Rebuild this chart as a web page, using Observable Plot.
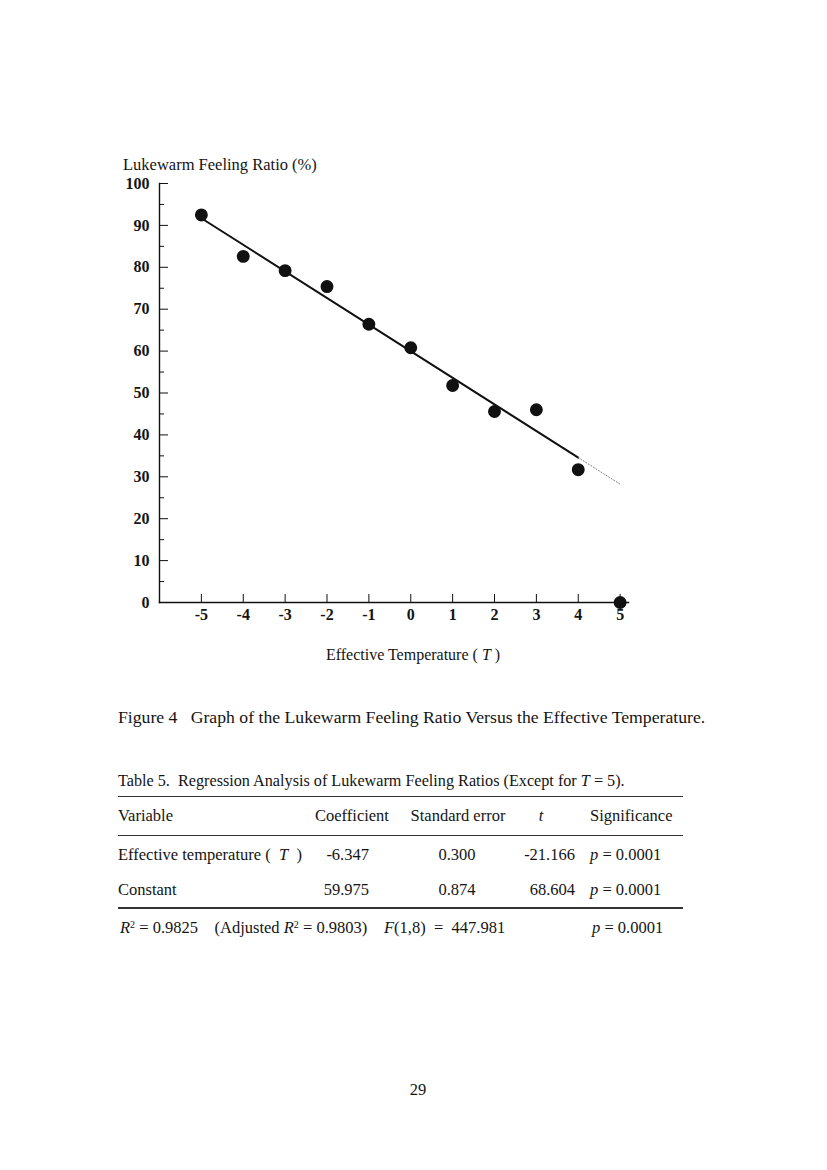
<!DOCTYPE html>
<html>
<head>
<meta charset="utf-8">
<script src="https://cdn.jsdelivr.net/npm/d3@7"></script>
<script src="https://cdn.jsdelivr.net/npm/@observablehq/plot@0.6"></script>
<style>
  html, body { margin: 0; padding: 0; background: #fff; }
  #page { position: relative; width: 827px; height: 1170px; background: #fff; overflow: hidden;
          font-family: "Liberation Serif", "Times New Roman", serif; color: #141414; }
  .t { position: absolute; white-space: pre; font-size: 16.5px; line-height: 20px; }
  .rule { position: absolute; left: 118px; width: 565px; background: #333; }
  #chart { position: absolute; left: 0; top: 140px; }
  i { font-style: italic; }
  sup { font-size: 10px; vertical-align: 5px; line-height: 0; }
</style>
</head>
<body>
<div id="page"></div>
<script>
// ---- chart data ----
const effectiveTemp = [-5, -4, -3, -2, -1, 0, 1, 2, 3, 4, 5];
const lukewarmRatio = [92.5, 82.6, 79.2, 75.4, 66.4, 60.8, 51.8, 45.6, 46.0, 31.7, 0];
const xTicks = [-5, -4, -3, -2, -1, 0, 1, 2, 3, 4, 5];
const yTicks = [0, 10, 20, 30, 40, 50, 60, 70, 80, 90, 100];
const yMinorTicks = [5, 15, 25, 35, 45, 55, 65, 75, 85, 95];
// regression (from Table 5, fitted for T = -5..4)
const regSlope = -6.347;
const regConstant = 59.975;
const fitSpan = [-5, 4];
const extensionSpan = [4, 5];

// ---- table data ----
const tableTitle = "Table 5.  Regression Analysis of Lukewarm Feeling Ratios (Except for <i>T</i> = 5).";
const tableHeaders = ["Variable", "Coefficient", "Standard error", "<i>t</i>", "Significance"];
const rowVariables = ["Effective temperature (  <i>T</i>  )", "Constant"];
const rowCoefficients = ["-6.347", "59.975"];
const rowStdErrors = ["0.300", "0.874"];
const rowTValues = ["-21.166", "68.604"];
const rowSignificance = ["<i>p</i> = 0.0001", "<i>p</i> = 0.0001"];
const footerR2 = "<i>R</i><sup>2</sup> = 0.9825    (Adjusted <i>R</i><sup>2</sup> = 0.9803)";
const footerF = "<i>F</i>(1,8)  =  447.981";
const footerP = "<i>p</i> = 0.0001";

const yTitle = "Lukewarm Feeling Ratio (%)";
const xTitle = "Effective Temperature ( <i>T</i> )";
const caption = "Figure 4   Graph of the Lukewarm Feeling Ratio Versus the Effective Temperature.";
const pageNumber = "29";

// ---- build chart ----
const points = effectiveTemp.map((t, i) => ({t, v: lukewarmRatio[i]}));
const fitLine = fitSpan.map(t => ({t, v: regConstant + regSlope * t}));
const extLine = extensionSpan.map(t => ({t, v: regConstant + regSlope * t}));

const W = 827, H = 540, mL = 159, mR = 199, mT = 43, mB = 78;
const innerW = W - mL - mR, innerH = H - mT - mB;

const chart = Plot.plot({
  width: W, height: H,
  marginLeft: mL, marginRight: mR, marginTop: mT, marginBottom: mB,
  x: {domain: [-6, 5.2]},
  y: {domain: [0, 100]},
  style: {fontFamily: '"Liberation Serif", "Times New Roman", serif', fontSize: "16px", color: "#141414", background: "transparent"},
  marks: [
    Plot.axisY(yTicks, {tickSize: 0, tickPadding: 10, label: null, tickFormat: d => String(d), fontSize: 16, fontWeight: "bold"}),
    Plot.axisX(xTicks, {tickSize: 0, tickPadding: 6, label: null, tickFormat: d => String(d), fontSize: 16, fontWeight: "bold"}),
    Plot.tickY(yTicks, {y: d => d, insetRight: innerW - 9, stroke: "#111"}),
    Plot.tickY(yMinorTicks, {y: d => d, insetRight: innerW - 5, stroke: "#111"}),
    Plot.tickX(xTicks, {x: d => d, insetTop: innerH - 8, stroke: "#111"}),
    Plot.frame({anchor: "left", stroke: "#111", strokeWidth: 1.4}),
    Plot.frame({anchor: "bottom", stroke: "#111", strokeWidth: 1.4}),
    Plot.line(fitLine, {x: "t", y: "v", stroke: "#111", strokeWidth: 2}),
    Plot.line(extLine, {x: "t", y: "v", stroke: "#777", strokeWidth: 1, strokeDasharray: "1,2"}),
    Plot.dot(points, {x: "t", y: "v", r: 5.7, fill: "#111", stroke: "#111"})
  ]
});
chart.id = "chart";
const page = document.getElementById("page");
page.appendChild(chart);

// ---- text helpers ----
function text(html, x, cy, align = "left", extra = "") {
  const d = document.createElement("div");
  d.className = "t";
  d.innerHTML = html;
  let style = `top:${cy - 10}px;`;
  if (align === "left") style += `left:${x}px;`;
  else if (align === "right") style += `right:${827 - x}px;`;
  else style += `left:${x}px;transform:translateX(-50%);`;
  d.style.cssText = style + extra;
  page.appendChild(d);
}
function rule(y, h) {
  const d = document.createElement("div");
  d.className = "rule";
  d.style.top = y + "px";
  d.style.height = h + "px";
  page.appendChild(d);
}

text(yTitle, 123, 165);
text(xTitle, 413, 655, "center", "font-size:16px;");
text(caption, 118, 717, "left", "font-size:17.7px;");

// table
text(tableTitle, 118, 781, "left", "font-size:16.2px;");
rule(796, 1);
const hdrY = 816;
text(tableHeaders[0], 118, hdrY);
text(tableHeaders[1], 352, hdrY, "center");
text(tableHeaders[2], 458, hdrY, "center");
text(tableHeaders[3], 541, hdrY, "center");
text(tableHeaders[4], 590, hdrY);
rule(835, 1);
const rowY = [855, 890];
rowVariables.forEach((v, i) => {
  text(v, 118, rowY[i]);
  text(rowCoefficients[i], 369, rowY[i], "right");
  text(rowStdErrors[i], 457, rowY[i], "center");
  text(rowTValues[i], 575, rowY[i], "right");
  text(rowSignificance[i], 590, rowY[i]);
});
rule(907, 2);
text(footerR2, 120, 928);
text(footerF, 384, 928);
text(footerP, 592, 928);

text(pageNumber, 418, 1090, "center");
</script>
</body>
</html>
